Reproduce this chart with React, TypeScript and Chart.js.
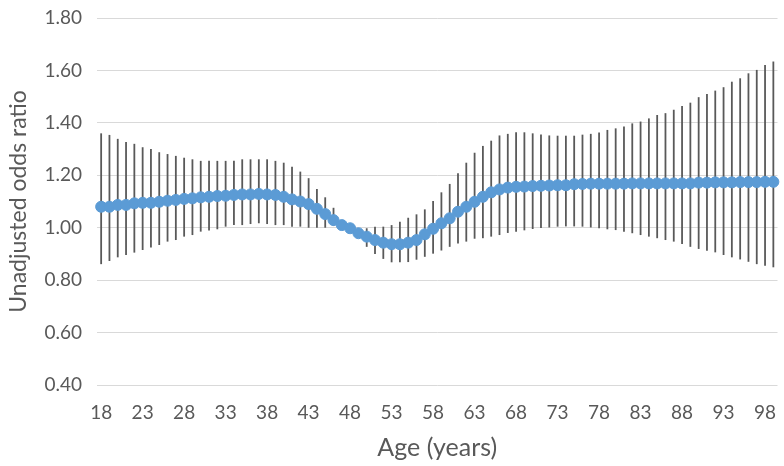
import React, { useEffect, useRef } from "react";
import { Chart, registerables } from "chart.js";

Chart.register(...registerables);

const ages: number[] = [
  18, 19, 20, 21, 22, 23, 24, 25, 26, 27, 28, 29, 30, 31, 32, 33, 34, 35, 36, 37,
  38, 39, 40, 41, 42, 43, 44, 45, 46, 47, 48, 49, 50, 51, 52, 53, 54, 55, 56, 57,
  58, 59, 60, 61, 62, 63, 64, 65, 66, 67, 68, 69, 70, 71, 72, 73, 74, 75, 76, 77,
  78, 79, 80, 81, 82, 83, 84, 85, 86, 87, 88, 89, 90, 91, 92, 93, 94, 95, 96, 97,
  98, 99,
];

const oddsRatio: number[] = [
  1.080, 1.080, 1.087, 1.087, 1.093, 1.095, 1.095, 1.099, 1.103, 1.106,
  1.110, 1.112, 1.116, 1.118, 1.121, 1.122, 1.125, 1.127, 1.127, 1.129,
  1.127, 1.125, 1.118, 1.108, 1.100, 1.090, 1.072, 1.052, 1.029, 1.010,
  0.998, 0.979, 0.966, 0.953, 0.943, 0.937, 0.937, 0.943, 0.953, 0.975,
  0.996, 1.017, 1.036, 1.061, 1.080, 1.099, 1.118, 1.135, 1.146, 1.153,
  1.156, 1.157, 1.159, 1.160, 1.161, 1.162, 1.162, 1.166, 1.167, 1.168,
  1.168, 1.168, 1.168, 1.168, 1.169, 1.169, 1.169, 1.169, 1.169, 1.169,
  1.169, 1.169, 1.172, 1.172, 1.173, 1.173, 1.173, 1.174, 1.174, 1.174,
  1.175, 1.175,
];

const upperCI: number[] = [
  1.360, 1.354, 1.339, 1.327, 1.320, 1.307, 1.300, 1.288, 1.281, 1.274,
  1.267, 1.261, 1.255, 1.255, 1.255, 1.255, 1.255, 1.261, 1.261, 1.261,
  1.261, 1.255, 1.248, 1.233, 1.214, 1.189, 1.148, 1.116, 1.076, 1.025,
  1.010, 0.992, 0.998, 1.004, 1.004, 1.010, 1.023, 1.038, 1.051, 1.070,
  1.102, 1.135, 1.167, 1.208, 1.248, 1.286, 1.312, 1.332, 1.352, 1.358,
  1.364, 1.364, 1.360, 1.356, 1.352, 1.351, 1.351, 1.351, 1.355, 1.358,
  1.363, 1.373, 1.379, 1.386, 1.398, 1.405, 1.417, 1.430, 1.437, 1.450,
  1.464, 1.477, 1.498, 1.510, 1.523, 1.536, 1.557, 1.570, 1.589, 1.602,
  1.621, 1.634,
];

const lowerCI: number[] = [
  0.861, 0.873, 0.887, 0.896, 0.905, 0.915, 0.925, 0.934, 0.947, 0.953,
  0.966, 0.972, 0.985, 0.989, 0.994, 1.004, 1.010, 1.010, 1.014, 1.017,
  1.014, 1.010, 1.010, 1.004, 1.004, 1.000, 1.000, 1.000, 1.008, 0.995,
  0.985, 0.965, 0.927, 0.900, 0.881, 0.868, 0.868, 0.869, 0.878, 0.889,
  0.901, 0.913, 0.927, 0.940, 0.947, 0.958, 0.960, 0.966, 0.972, 0.980,
  0.985, 0.990, 0.995, 0.999, 1.001, 1.004, 1.005, 1.005, 1.004, 1.001,
  0.998, 0.994, 0.991, 0.985, 0.979, 0.972, 0.966, 0.960, 0.953, 0.947,
  0.938, 0.927, 0.919, 0.912, 0.906, 0.896, 0.887, 0.879, 0.870, 0.861,
  0.855, 0.849,
];

const yTicks = { min: 0.4, max: 1.8, step: 0.2 };
const xTickEvery = 5;

const FONT = "Lato, 'Noto Sans', sans-serif";
const TEXT = "#595959";

const errorBarPlugin = {
  id: "errorBars",
  beforeDatasetsDraw(chart: any) {
    const meta = chart.getDatasetMeta(0);
    const yScale = chart.scales.y;
    const ctx = chart.ctx;
    ctx.save();
    ctx.strokeStyle = "#595959";
    ctx.lineWidth = 1.8;
    meta.data.forEach((pt: any, i: number) => {
      const yTop = yScale.getPixelForValue(upperCI[i]);
      const yBot = yScale.getPixelForValue(lowerCI[i]);
      ctx.beginPath();
      ctx.moveTo(pt.x, yTop);
      ctx.lineTo(pt.x, yBot);
      ctx.stroke();
    });
    ctx.restore();
  },
};

export default function App() {
  const canvasRef = useRef<HTMLCanvasElement | null>(null);

  useEffect(() => {
    if (!canvasRef.current) return;
    const chart = new Chart(canvasRef.current, {
      type: "line",
      data: {
        labels: ages.map(String),
        datasets: [
          {
            data: oddsRatio,
            showLine: false,
            pointRadius: 5.5,
            pointBorderWidth: 1,
            pointBackgroundColor: "#5B9BD5",
            pointBorderColor: "#5B9BD5",
            borderColor: "#5B9BD5",
          },
        ],
      },
      options: {
        animation: false,
        responsive: true,
        maintainAspectRatio: false,
        layout: { padding: { top: 18, right: 0, left: 0, bottom: 0 } },
        plugins: {
          legend: { display: false },
          tooltip: { enabled: false },
        },
        scales: {
          x: {
            type: "category",
            offset: true,
            grid: { display: false, drawTicks: false },
            border: { display: false },
            afterFit: (s: any) => {
              s.height = 81;
              s.paddingRight = 0;
            },
            ticks: {
              autoSkip: false,
              maxRotation: 0,
              minRotation: 0,
              padding: 16,
              color: TEXT,
              font: { family: FONT, size: 19 },
              callback: (_v: any, i: number) =>
                i % xTickEvery === 0 ? String(ages[i]) : "",
            },
            title: {
              display: true,
              text: "Age (years)",
              color: TEXT,
              font: { family: FONT, size: 25 },
              padding: { top: 0, bottom: 3 },
            },
          },
          y: {
            min: yTicks.min,
            max: yTicks.max,
            afterFit: (s: any) => {
              s.width = 97;
              s.paddingTop = 0;
              s.paddingBottom = 0;
            },
            grid: { color: "#D9D9D9", lineWidth: 1, drawTicks: false },
            border: { display: false },
            ticks: {
              stepSize: yTicks.step,
              padding: 15,
              color: TEXT,
              font: { family: FONT, size: 19 },
              callback: (v: any) => Number(v).toFixed(2),
            },
            title: {
              display: true,
              text: "Unadjusted odds ratio",
              color: TEXT,
              font: { family: FONT, size: 23 },
              padding: { top: 5, bottom: 0 },
            },
          },
        },
      },
      plugins: [errorBarPlugin],
    });
    return () => chart.destroy();
  }, []);

  return (
    <div style={{ position: "fixed", left: 0, top: 0, width: 784, height: 466 }}>
      <canvas ref={canvasRef} />
    </div>
  );
}
